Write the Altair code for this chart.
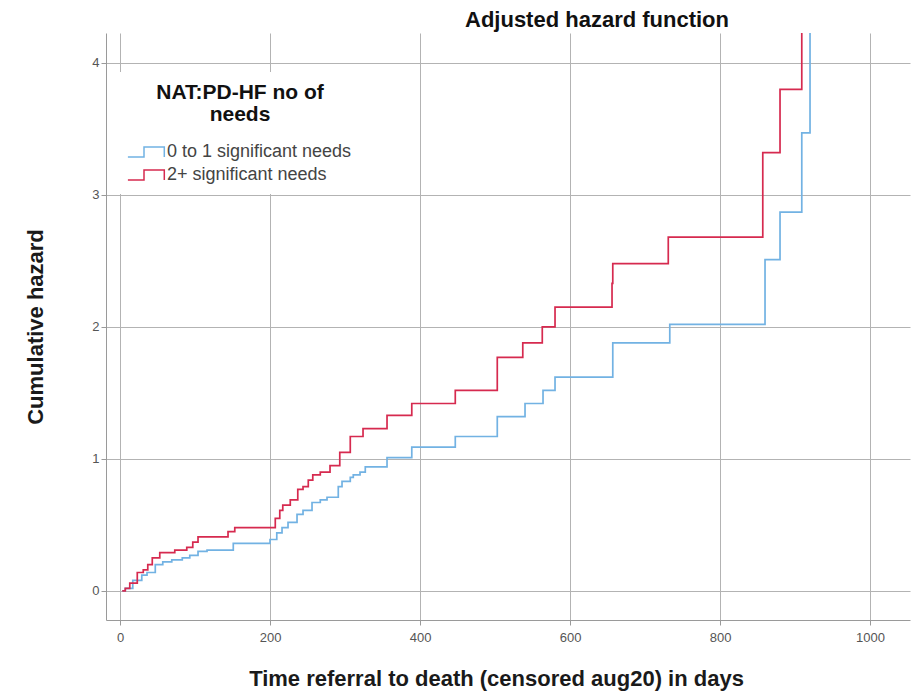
import altair as alt
import pandas as pd

# ---- data ----
groups = ["0 to 1 significant needs", "2+ significant needs"]

low_days = [3, 7, 17, 29, 36, 47, 57, 69, 83, 93, 104, 116, 151, 200, 209, 216, 224, 236,
            244, 256, 267, 276, 291, 296, 307, 311, 320, 327, 356, 389, 447, 503, 540, 564,
            580, 657, 733, 860, 880, 909, 920, 925]
low_haz = [0.0, 0.02, 0.08, 0.12, 0.14, 0.20, 0.22, 0.235, 0.25, 0.27, 0.30, 0.31, 0.36,
           0.39, 0.44, 0.48, 0.52, 0.58, 0.61, 0.67, 0.69, 0.71, 0.79, 0.83, 0.86, 0.88,
           0.90, 0.94, 1.01, 1.09, 1.17, 1.32, 1.42, 1.52, 1.62, 1.88, 2.02, 2.51, 2.87,
           3.47, 4.6, 4.6]

high_days = [3, 7, 13, 23, 31, 37, 43, 53, 73, 89, 97, 104, 144, 153, 207, 213, 217, 227,
             237, 244, 251, 257, 267, 280, 293, 307, 324, 356, 389, 447, 503, 537, 563,
             580, 656, 657, 731, 857, 880, 909, 915]
high_haz = [0.0, 0.02, 0.06, 0.14, 0.16, 0.20, 0.25, 0.29, 0.31, 0.33, 0.37, 0.41, 0.45,
            0.48, 0.55, 0.61, 0.65, 0.69, 0.77, 0.79, 0.84, 0.88, 0.90, 0.95, 1.05, 1.17,
            1.23, 1.33, 1.42, 1.52, 1.77, 1.88, 2.00, 2.15, 2.33, 2.48, 2.68, 3.32, 3.80,
            4.6, 4.6]

x_ticks = [0, 200, 400, 600, 800, 1000]
y_ticks = [0, 1, 2, 3, 4]

colors = ["#72b2e3", "#d62a4f"]

df = pd.concat([
    pd.DataFrame({"day": low_days, "hazard": low_haz, "group": groups[0], "ord": range(len(low_days))}),
    pd.DataFrame({"day": high_days, "hazard": high_haz, "group": groups[1], "ord": range(len(high_days))}),
])

FONT = "Liberation Sans"

# step-shaped legend symbol (unit = sqrt(symbolSize)/2 px)
step_path = "M-1.3,0.7 L1,0.7 L1,-0.7 L3.9,-0.7 L3.9,0.7"

chart = alt.Chart(df).mark_line(
    interpolate="step-after", clip=True, strokeWidth=1.7
).encode(
    x=alt.X("day:Q",
            scale=alt.Scale(domain=[-18.7, 1053.3], nice=False, zero=False),
            axis=alt.Axis(values=x_ticks, format="d", labelPadding=6,
                          title="Time referral to death (censored aug20) in days",
                          titlePadding=24, titleX=390)),
    y=alt.Y("hazard:Q",
            scale=alt.Scale(domain=[-0.22, 4.227], nice=False, zero=False),
            axis=alt.Axis(values=y_ticks, title="Cumulative hazard", titlePadding=44)),
    color=alt.Color("group:N",
                    scale=alt.Scale(domain=groups, range=colors),
                    legend=alt.Legend(
                        title=["NAT:PD-HF no of", "needs"],
                        orient="none", legendX=12, legendY=39,
                        fillColor="white", padding=10,
                        titleFont=FONT, titleFontSize=21, titleFontWeight="bold",
                        titleColor="#111", titleAnchor="middle", titleAlign="center",
                        titlePadding=18, titleLineHeight=22,
                        labelFont=FONT, labelFontSize=18, labelColor="#444", labelLimit=400,
                        symbolType=step_path, symbolSize=196, symbolStrokeWidth=1.5,
                        symbolFillColor="transparent", labelOffset=21, rowPadding=5,
                    )),
    order="ord:Q",
).properties(
    width=804, height=587,
    padding={"left": 106, "top": 33, "right": 3, "bottom": 74},
    autosize=alt.AutoSizeParams(type="none"),
    title=alt.TitleParams("Adjusted hazard function", font=FONT, fontSize=22,
                          fontWeight="bold", color="#111", anchor="middle", dx=89, offset=1),
).configure_view(
    stroke=None
).configure_axis(
    grid=True, gridColor="#b3b3b3", gridWidth=1,
    domainColor="#9a9a9a", tickColor="#9a9a9a", tickSize=5,
    labelFont=FONT, labelFontSize=13, labelColor="#555",
    titleFont=FONT, titleFontSize=22, titleFontWeight="bold", titleColor="#1a1a1a",
)

chart.save("out.html", embed_options={"renderer": "svg", "actions": False})
